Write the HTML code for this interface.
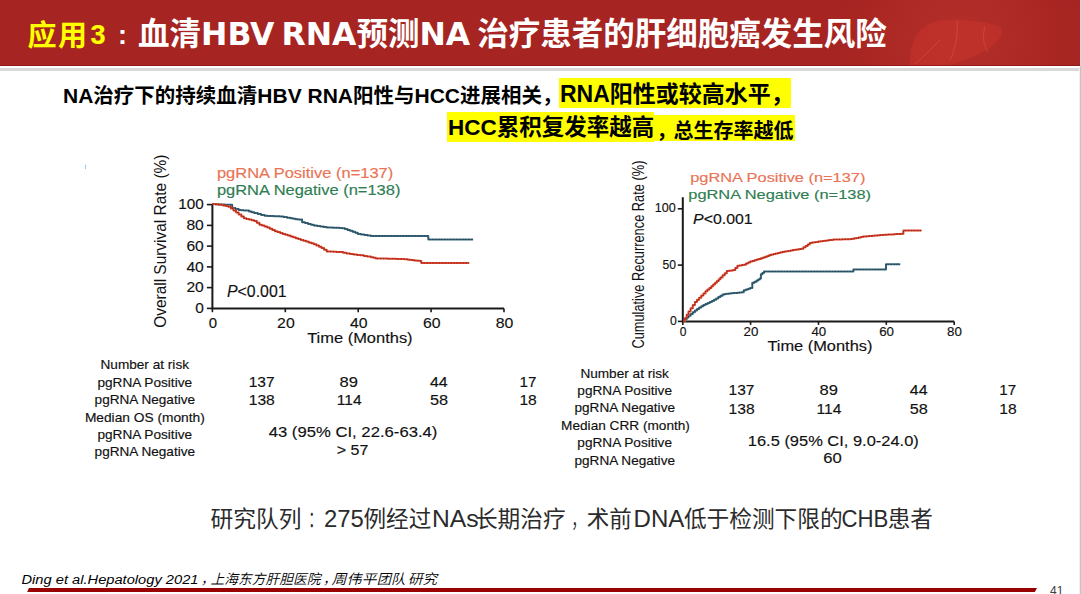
<!DOCTYPE html>
<html>
<head>
<meta charset="utf-8">
<style>
html,body{margin:0;padding:0;background:#fff;}
body{width:1081px;height:594px;position:relative;overflow:hidden;font-family:"Liberation Sans","Noto Sans CJK SC",sans-serif;}
.abs{position:absolute;white-space:nowrap;}
#hdr{position:absolute;left:0;top:0;width:1080px;height:66px;background:#a62421;overflow:hidden;}
#hdrline{position:absolute;left:0;top:68px;width:1080px;height:3px;background:#d9d9d9;}
#redge{position:absolute;left:1080px;top:0;width:1px;height:594px;background:linear-gradient(#cddbde 0,#cddbde 66px,#c4c4c4 67px);}
#redge2{position:absolute;left:1079px;top:67px;width:1px;height:527px;background:#f0f0f0;}
.title{font-family:"Liberation Sans","Noto Sans CJK SC",sans-serif;font-weight:bold;font-size:31px;color:#fff;line-height:1;}
.sub{font-family:"Liberation Sans","Noto Sans CJK SC",sans-serif;font-weight:bold;color:#000;line-height:1;}
.lt{font-family:"DejaVu Sans",sans-serif;font-size:31.5px;word-spacing:-4px;}
.l21{font-size:21px;}
.hl{background:#ffff00;}
.chart{font-family:"Liberation Sans",Arial,sans-serif;}
</style>
</head>
<body>
<div id="hdr"><svg width="1080" height="66" style="position:absolute;left:0;top:0">
<defs><radialGradient id="lg" cx="960" cy="36" r="120" gradientUnits="userSpaceOnUse"><stop offset="0" stop-color="#c23a33" stop-opacity="0.5"/><stop offset="1" stop-color="#c23a33" stop-opacity="0"/></radialGradient></defs>
<rect x="840" y="0" width="240" height="66" fill="url(#lg)"/>
<path d="M910,66 C909,46 916,30 929,24 C940,19 952,19 961,20 C974,21 992,22 1001,28 C1005,33 998,43 985,51 C974,57 960,62 946,66 Z" fill="#c8332c" fill-opacity="0.55"/>
<path d="M957,20 C958,34 956,48 950,60 M940,40 C930,50 922,58 915,64 M985,26 C982,38 984,46 988,52" stroke="#d9705a" stroke-opacity="0.35" stroke-width="1" fill="none"/>
<rect x="0" y="65" width="1080" height="1" fill="#8a1414" fill-opacity="0.6"/>
</svg></div>
<div id="hdrline"></div>
<div id="redge"></div><div id="redge2"></div>

<div class="abs title" style="left:27.5px;top:22px;font-size:29px;letter-spacing:1.4px;color:#ffff00;">应用</div>
<div class="abs title" style="left:90.5px;top:22px;font-size:27px;color:#ffff00;font-family:'Liberation Sans',sans-serif;-webkit-text-stroke:0.2px #ffff00;">3</div>
<div class="abs title" style="left:118px;top:22px;font-size:27px;font-family:'Liberation Sans',sans-serif;">:</div>
<div class="abs title" style="left:138px;top:19px;font-size:31.5px;">血清<span class="lt">HBV RNA</span>预测<span class="lt">NA </span>治疗患者的肝细胞癌发生风险</div>

<div class="abs sub" style="left:63px;top:85px;font-size:20.5px;"><span class="l21">NA</span>治疗下的持续血清<span class="l21">HBV RNA</span>阳性与<span class="l21">HCC</span>进展相关，</div>
<div class="abs hl" style="left:559px;top:78px;width:232px;height:30px;"></div>
<div class="abs sub" style="left:560px;top:83px;font-size:23px;">RNA阳性或较高水平，</div>
<div class="abs hl" style="left:447px;top:112px;width:207px;height:30px;"></div>
<div class="abs hl" style="left:654px;top:115px;width:141px;height:26px;"></div>
<div class="abs sub" style="left:448px;top:117px;font-size:22.5px;">HCC累积复发率越高</div>
<div class="abs sub" style="left:653.5px;top:120.5px;font-size:20px;"><span style="position:relative;left:3px">，</span>总生存率越低</div>

<svg class="abs chart" style="left:0;top:0" width="1081" height="594" viewBox="0 0 1081 594" font-family="Liberation Sans, Arial, sans-serif">
<!--CH-->
<g stroke="#1a1a1a" stroke-width="2" fill="none" stroke-linecap="butt">
<path d="M212.4,204.6 V308.4 H504.0"/>
<path d="M206.9,308.4 H212.4" stroke-width="1.6"/>
<path d="M206.9,287.6 H212.4" stroke-width="1.6"/>
<path d="M206.9,266.9 H212.4" stroke-width="1.6"/>
<path d="M206.9,246.1 H212.4" stroke-width="1.6"/>
<path d="M206.9,225.4 H212.4" stroke-width="1.6"/>
<path d="M206.9,204.6 H212.4" stroke-width="1.6"/>
<path d="M212.4,308.4 V312.2" stroke-width="1.6"/>
<path d="M285.3,308.4 V312.2" stroke-width="1.6"/>
<path d="M358.2,308.4 V312.2" stroke-width="1.6"/>
<path d="M431.1,308.4 V312.2" stroke-width="1.6"/>
<path d="M504.0,308.4 V312.2" stroke-width="1.6"/>
</g>
<text x="195.2" y="313.1" font-size="15" fill="#111" stroke="#111" stroke-width="0.15" textLength="8.6" lengthAdjust="spacingAndGlyphs" >0</text>
<text x="186.4" y="292.3" font-size="15" fill="#111" stroke="#111" stroke-width="0.15" textLength="17.4" lengthAdjust="spacingAndGlyphs" >20</text>
<text x="186.4" y="271.6" font-size="15" fill="#111" stroke="#111" stroke-width="0.15" textLength="17.4" lengthAdjust="spacingAndGlyphs" >40</text>
<text x="186.4" y="250.8" font-size="15" fill="#111" stroke="#111" stroke-width="0.15" textLength="17.4" lengthAdjust="spacingAndGlyphs" >60</text>
<text x="186.4" y="230.1" font-size="15" fill="#111" stroke="#111" stroke-width="0.15" textLength="17.4" lengthAdjust="spacingAndGlyphs" >80</text>
<text x="178.3" y="209.3" font-size="15" fill="#111" stroke="#111" stroke-width="0.15" textLength="25.5" lengthAdjust="spacingAndGlyphs" >100</text>
<text x="208.8" y="327.6" font-size="15" fill="#111" stroke="#111" stroke-width="0.15" textLength="8.3" lengthAdjust="spacingAndGlyphs" >0</text>
<text x="277.1" y="327.6" font-size="15" fill="#111" stroke="#111" stroke-width="0.15" textLength="17.6" lengthAdjust="spacingAndGlyphs" >20</text>
<text x="350.0" y="327.6" font-size="15" fill="#111" stroke="#111" stroke-width="0.15" textLength="17.6" lengthAdjust="spacingAndGlyphs" >40</text>
<text x="422.9" y="327.6" font-size="15" fill="#111" stroke="#111" stroke-width="0.15" textLength="17.6" lengthAdjust="spacingAndGlyphs" >60</text>
<text x="495.8" y="327.6" font-size="15" fill="#111" stroke="#111" stroke-width="0.15" textLength="17.6" lengthAdjust="spacingAndGlyphs" >80</text>
<text x="307.2" y="342.8" font-size="15" fill="#111" stroke="#111" stroke-width="0.15" textLength="105.4" lengthAdjust="spacingAndGlyphs" >Time (Months)</text>
<text transform="translate(165.6,327.8) rotate(-90)" font-size="15.6" fill="#111" textLength="173.2" lengthAdjust="spacingAndGlyphs">Overall Survival Rate (%)</text>
<text x="227.0" y="296.8" font-size="15.6" fill="#111" stroke="#111" stroke-width="0.15" textLength="59.6" lengthAdjust="spacingAndGlyphs" ><tspan font-style="italic">P</tspan>&lt;0.001</text>
<text x="216.9" y="177.8" font-size="13.8" fill="#ea7355" stroke="#ea7355" stroke-width="0.15" textLength="176.4" lengthAdjust="spacingAndGlyphs" >pgRNA Positive (n=137)</text>
<text x="216.9" y="195.0" font-size="13.8" fill="#2f7d52" stroke="#2f7d52" stroke-width="0.15" textLength="183.5" lengthAdjust="spacingAndGlyphs" >pgRNA Negative (n=138)</text>
<path d="M212.3,204.1 H215.5 V204.2 H218.7 V204.4 H221.9 V204.5 H225.1 V204.7 H228.3 V204.8 H232.2 V208.0 H235.4 V209.0 H238.7 V210.0 H241.3 V210.2 H243.9 V210.4 H246.4 V210.5 H249.0 V211.4 H251.6 V212.3 H254.2 V213.1 H257.7 V214.0 H261.1 V214.9 H264.6 V215.7 H267.7 V215.9 H270.8 V216.0 H273.9 V216.2 H277.0 V216.3 H280.1 V216.5 H283.6 V217.1 H287.0 V217.7 H290.5 V218.3 H293.1 V218.7 H295.7 V219.2 H298.2 V219.6 H302.1 V222.2 H305.0 V223.0 H308.0 V223.9 H310.9 V224.7 H313.8 V225.6 H317.0 V226.0 H320.3 V226.5 H323.5 V226.9 H326.7 V227.4 H329.8 V227.5 H332.9 V227.7 H336.1 V227.8 H339.2 V228.0 H342.3 V228.2 H344.9 V229.0 H347.5 V229.9 H350.0 V230.7 H352.6 V231.8 H355.2 V232.8 H357.8 V233.9 H361.0 V234.4 H364.3 V234.9 H367.5 V235.4 H370.8 V235.9 L427.7,235.9 H428.3 V239.5 L473.1,239.5" stroke="#3a6a7c" stroke-width="2" fill="none" stroke-linejoin="round"/><path d="M212.3,204.1 H215.5 V204.2 H218.7 V204.4 H221.9 V204.5 H225.1 V204.7 H228.3 V204.8 H232.2 V208.0 H235.4 V209.0 H238.7 V210.0 H241.3 V210.2 H243.9 V210.4 H246.4 V210.5 H249.0 V211.4 H251.6 V212.3 H254.2 V213.1 H257.7 V214.0 H261.1 V214.9 H264.6 V215.7 H267.7 V215.9 H270.8 V216.0 H273.9 V216.2 H277.0 V216.3 H280.1 V216.5 H283.6 V217.1 H287.0 V217.7 H290.5 V218.3 H293.1 V218.7 H295.7 V219.2 H298.2 V219.6 H302.1 V222.2 H305.0 V223.0 H308.0 V223.9 H310.9 V224.7 H313.8 V225.6 H317.0 V226.0 H320.3 V226.5 H323.5 V226.9 H326.7 V227.4 H329.8 V227.5 H332.9 V227.7 H336.1 V227.8 H339.2 V228.0 H342.3 V228.2 H344.9 V229.0 H347.5 V229.9 H350.0 V230.7 H352.6 V231.8 H355.2 V232.8 H357.8 V233.9 H361.0 V234.4 H364.3 V234.9 H367.5 V235.4 H370.8 V235.9 L427.7,235.9 H428.3 V239.5 L473.1,239.5" stroke="#1e2c44" stroke-width="0.9" stroke-dasharray="1.6,1.4" fill="none" stroke-opacity="0.8"/>
<path d="M212.3,204.1 H215.0 V204.3 H217.8 V204.6 H220.5 V204.8 H223.1 V205.4 H225.7 V206.1 H228.3 V206.7 H230.9 V208.6 H233.5 V210.5 H236.1 V212.5 H238.7 V214.4 H241.3 V216.4 H243.9 V218.3 H246.4 V219.0 H249.0 V219.6 H251.6 V220.3 H254.2 V220.9 H256.8 V222.8 H259.4 V224.8 H262.0 V225.6 H264.6 V226.5 H267.2 V227.4 H269.8 V228.7 H272.3 V230.0 H274.9 V231.3 H277.5 V232.1 H280.1 V233.0 H282.7 V233.9 H285.3 V234.7 H287.9 V235.6 H290.5 V236.4 H293.1 V237.3 H295.7 V238.2 H298.2 V239.0 H300.8 V239.9 H303.4 V240.8 H306.0 V241.6 H308.6 V242.5 H311.2 V243.3 H313.8 V244.2 H316.4 V245.5 H319.0 V246.8 H321.6 V248.1 H324.1 V249.8 H326.7 V251.5 H330.0 V251.6 H333.2 V251.7 H336.4 V251.9 H339.7 V252.0 H343.1 V252.7 H346.6 V253.4 H350.0 V254.1 H353.5 V254.5 H356.9 V254.9 H360.4 V255.3 H363.9 V256.0 H367.3 V256.6 H370.8 V257.2 H373.4 V257.8 H375.9 V258.5 H378.8 V258.5 H381.7 V258.6 H384.6 V258.6 H387.5 V258.7 H390.3 V258.7 H393.2 V258.8 H396.1 V258.9 H399.0 V258.9 H401.8 V259.0 H404.9 V259.3 H407.9 V259.7 H410.9 V260.0 H413.9 V260.4 H416.9 V260.7 H420.0 V261.0 H421.3 V262.9 L469.2,262.9" stroke="#e0452e" stroke-width="2" fill="none" stroke-linejoin="round"/><path d="M212.3,204.1 H215.0 V204.3 H217.8 V204.6 H220.5 V204.8 H223.1 V205.4 H225.7 V206.1 H228.3 V206.7 H230.9 V208.6 H233.5 V210.5 H236.1 V212.5 H238.7 V214.4 H241.3 V216.4 H243.9 V218.3 H246.4 V219.0 H249.0 V219.6 H251.6 V220.3 H254.2 V220.9 H256.8 V222.8 H259.4 V224.8 H262.0 V225.6 H264.6 V226.5 H267.2 V227.4 H269.8 V228.7 H272.3 V230.0 H274.9 V231.3 H277.5 V232.1 H280.1 V233.0 H282.7 V233.9 H285.3 V234.7 H287.9 V235.6 H290.5 V236.4 H293.1 V237.3 H295.7 V238.2 H298.2 V239.0 H300.8 V239.9 H303.4 V240.8 H306.0 V241.6 H308.6 V242.5 H311.2 V243.3 H313.8 V244.2 H316.4 V245.5 H319.0 V246.8 H321.6 V248.1 H324.1 V249.8 H326.7 V251.5 H330.0 V251.6 H333.2 V251.7 H336.4 V251.9 H339.7 V252.0 H343.1 V252.7 H346.6 V253.4 H350.0 V254.1 H353.5 V254.5 H356.9 V254.9 H360.4 V255.3 H363.9 V256.0 H367.3 V256.6 H370.8 V257.2 H373.4 V257.8 H375.9 V258.5 H378.8 V258.5 H381.7 V258.6 H384.6 V258.6 H387.5 V258.7 H390.3 V258.7 H393.2 V258.8 H396.1 V258.9 H399.0 V258.9 H401.8 V259.0 H404.9 V259.3 H407.9 V259.7 H410.9 V260.0 H413.9 V260.4 H416.9 V260.7 H420.0 V261.0 H421.3 V262.9 L469.2,262.9" stroke="#6a1810" stroke-width="0.9" stroke-dasharray="1.6,1.4" fill="none" stroke-opacity="0.8"/>
<g stroke="#1a1a1a" stroke-width="2" fill="none">
<path d="M682.8,197.2 V321.4 H954.2"/>
<path d="M677.8,321.4 H682.8" stroke-width="1.6"/>
<path d="M677.8,265.1 H682.8" stroke-width="1.6"/>
<path d="M677.8,208.8 H682.8" stroke-width="1.6"/>
<path d="M682.8,321.4 V324.9" stroke-width="1.6"/>
<path d="M750.6,321.4 V324.9" stroke-width="1.6"/>
<path d="M818.5,321.4 V324.9" stroke-width="1.6"/>
<path d="M886.3,321.4 V324.9" stroke-width="1.6"/>
<path d="M954.2,321.4 V324.9" stroke-width="1.6"/>
</g>
<text x="654.8" y="212.4" font-size="12.6" fill="#111" stroke="#111" stroke-width="0.15" textLength="21.0" lengthAdjust="spacingAndGlyphs" >100</text>
<text x="662.5" y="268.5" font-size="12" fill="#111" stroke="#111" stroke-width="0.15" textLength="13.5" lengthAdjust="spacingAndGlyphs" >50</text>
<text x="670.0" y="324.5" font-size="12" fill="#111" stroke="#111" stroke-width="0.15" textLength="6.8" lengthAdjust="spacingAndGlyphs" >0</text>
<text x="679.7" y="335.5" font-size="12" fill="#111" stroke="#111" stroke-width="0.15" textLength="6.7" lengthAdjust="spacingAndGlyphs" >0</text>
<text x="743.5" y="335.5" font-size="12" fill="#111" stroke="#111" stroke-width="0.15" textLength="14.8" lengthAdjust="spacingAndGlyphs" >20</text>
<text x="811.4" y="335.5" font-size="12" fill="#111" stroke="#111" stroke-width="0.15" textLength="14.8" lengthAdjust="spacingAndGlyphs" >40</text>
<text x="879.2" y="335.5" font-size="12" fill="#111" stroke="#111" stroke-width="0.15" textLength="14.8" lengthAdjust="spacingAndGlyphs" >60</text>
<text x="947.1" y="335.5" font-size="12" fill="#111" stroke="#111" stroke-width="0.15" textLength="14.8" lengthAdjust="spacingAndGlyphs" >80</text>
<text x="767.4" y="351.1" font-size="14.5" fill="#111" stroke="#111" stroke-width="0.15" textLength="105.0" lengthAdjust="spacingAndGlyphs" >Time (Months)</text>
<text transform="translate(644.2,348.6) rotate(-90)" font-size="15.6" fill="#111" textLength="188" lengthAdjust="spacingAndGlyphs">Cumulative Recurrence Rate (%)</text>
<text x="693.1" y="224.0" font-size="14" fill="#111" stroke="#111" stroke-width="0.15" textLength="59.6" lengthAdjust="spacingAndGlyphs" ><tspan font-style="italic">P</tspan>&lt;0.001</text>
<text x="690.2" y="182.0" font-size="13.2" fill="#ea7355" stroke="#ea7355" stroke-width="0.15" textLength="175.2" lengthAdjust="spacingAndGlyphs" >pgRNA Positive (n=137)</text>
<text x="688.3" y="199.2" font-size="13.2" fill="#2f7d52" stroke="#2f7d52" stroke-width="0.15" textLength="182.7" lengthAdjust="spacingAndGlyphs" >pgRNA Negative (n=138)</text>
<path d="M683.2,321.1 H685.0 V319.3 H686.7 V317.5 H688.5 V315.7 H690.6 V314.0 H692.8 V312.2 H694.9 V310.4 H697.0 V309.0 H699.1 V307.6 H701.3 V306.2 H703.4 V305.1 H705.5 V304.0 H707.7 V303.0 H709.8 V301.9 H711.9 V300.9 H714.0 V299.8 H716.2 V298.5 H718.3 V297.1 H720.4 V295.8 H722.6 V294.5 H724.7 V294.1 H726.8 V293.8 H728.9 V293.4 H731.1 V293.2 H733.2 V293.0 H735.3 V292.9 H737.4 V292.7 H739.6 V292.5 H741.7 V292.3 H743.8 V290.2 H746.0 V289.5 H748.1 V288.8 H750.2 V288.1 H752.3 V282.8 H754.5 V281.7 H756.6 V280.6 H758.2 V279.6 H759.8 V278.5 H760.9 V274.3 H762.4 V272.9 H764.0 V271.5 L852.3,271.5 H853.4 V269.4 L884.3,269.4 H886.0 V264.3 L900.2,264.3" stroke="#3a6a7c" stroke-width="2" fill="none" stroke-linejoin="round"/><path d="M683.2,321.1 H685.0 V319.3 H686.7 V317.5 H688.5 V315.7 H690.6 V314.0 H692.8 V312.2 H694.9 V310.4 H697.0 V309.0 H699.1 V307.6 H701.3 V306.2 H703.4 V305.1 H705.5 V304.0 H707.7 V303.0 H709.8 V301.9 H711.9 V300.9 H714.0 V299.8 H716.2 V298.5 H718.3 V297.1 H720.4 V295.8 H722.6 V294.5 H724.7 V294.1 H726.8 V293.8 H728.9 V293.4 H731.1 V293.2 H733.2 V293.0 H735.3 V292.9 H737.4 V292.7 H739.6 V292.5 H741.7 V292.3 H743.8 V290.2 H746.0 V289.5 H748.1 V288.8 H750.2 V288.1 H752.3 V282.8 H754.5 V281.7 H756.6 V280.6 H758.2 V279.6 H759.8 V278.5 H760.9 V274.3 H762.4 V272.9 H764.0 V271.5 L852.3,271.5 H853.4 V269.4 L884.3,269.4 H886.0 V264.3 L900.2,264.3" stroke="#1e2c44" stroke-width="0.9" stroke-dasharray="1.6,1.4" fill="none" stroke-opacity="0.8"/>
<path d="M683.2,321.1 H685.0 V317.9 H686.7 V314.7 H688.5 V311.5 H690.6 V308.3 H692.8 V305.1 H694.9 V301.9 H697.0 V299.8 H699.1 V297.7 H701.3 V295.5 H703.4 V293.4 H705.5 V291.3 H707.4 V289.6 H709.4 V287.9 H711.3 V286.2 H713.2 V284.5 H715.1 V282.8 H716.9 V281.0 H718.7 V279.2 H720.4 V277.4 H722.6 V275.3 H724.7 V273.2 H726.8 V271.1 H728.9 V270.7 H731.1 V270.4 H733.2 V270.0 H735.3 V267.9 H737.4 V265.7 H739.6 V265.4 H741.7 V265.0 H743.8 V264.7 H746.0 V263.6 H748.1 V262.6 H750.2 V261.5 H752.3 V260.9 H754.5 V260.2 H756.6 V259.6 H758.7 V258.9 H760.9 V258.3 H763.0 V257.5 H765.1 V256.7 H767.2 V255.9 H769.4 V255.1 H771.5 V254.6 H773.6 V254.0 H775.7 V253.5 H777.9 V253.0 H780.0 V252.4 H782.1 V251.9 H784.3 V251.6 H786.4 V251.2 H788.5 V250.9 H790.6 V250.5 H792.8 V250.1 H794.9 V249.8 H797.0 V249.4 H799.1 V249.1 H801.3 V248.7 H803.4 V247.3 H805.5 V245.9 H807.7 V244.4 H809.8 V243.0 H811.9 V242.6 H814.0 V242.3 H816.2 V242.0 H818.3 V241.6 H820.4 V241.3 H822.6 V241.0 H824.7 V240.7 H826.8 V240.4 H828.9 V240.1 H831.1 V239.9 H833.2 V239.6 H835.1 V239.5 H837.0 V239.5 H838.9 V239.4 H840.8 V239.4 H842.6 V239.3 H844.5 V239.3 H846.4 V239.2 H848.3 V239.2 H850.2 V239.1 H852.3 V238.7 H854.5 V238.3 H856.6 V237.9 H858.7 V237.4 H860.9 V237.0 H863.0 V236.6 H864.9 V236.4 H866.8 V236.3 H868.7 V236.1 H870.6 V235.9 H872.6 V235.7 H874.5 V235.6 H876.4 V235.4 H878.3 V235.2 H880.2 V235.1 H882.1 V234.9 H884.0 V234.8 H886.0 V234.7 H887.9 V234.6 H889.8 V234.5 H891.7 V234.4 H893.6 V234.3 H895.5 V234.1 H897.4 V234.0 H899.4 V233.9 H901.3 V233.8 H903.4 V230.6 L921.5,230.6" stroke="#e0452e" stroke-width="2" fill="none" stroke-linejoin="round"/><path d="M683.2,321.1 H685.0 V317.9 H686.7 V314.7 H688.5 V311.5 H690.6 V308.3 H692.8 V305.1 H694.9 V301.9 H697.0 V299.8 H699.1 V297.7 H701.3 V295.5 H703.4 V293.4 H705.5 V291.3 H707.4 V289.6 H709.4 V287.9 H711.3 V286.2 H713.2 V284.5 H715.1 V282.8 H716.9 V281.0 H718.7 V279.2 H720.4 V277.4 H722.6 V275.3 H724.7 V273.2 H726.8 V271.1 H728.9 V270.7 H731.1 V270.4 H733.2 V270.0 H735.3 V267.9 H737.4 V265.7 H739.6 V265.4 H741.7 V265.0 H743.8 V264.7 H746.0 V263.6 H748.1 V262.6 H750.2 V261.5 H752.3 V260.9 H754.5 V260.2 H756.6 V259.6 H758.7 V258.9 H760.9 V258.3 H763.0 V257.5 H765.1 V256.7 H767.2 V255.9 H769.4 V255.1 H771.5 V254.6 H773.6 V254.0 H775.7 V253.5 H777.9 V253.0 H780.0 V252.4 H782.1 V251.9 H784.3 V251.6 H786.4 V251.2 H788.5 V250.9 H790.6 V250.5 H792.8 V250.1 H794.9 V249.8 H797.0 V249.4 H799.1 V249.1 H801.3 V248.7 H803.4 V247.3 H805.5 V245.9 H807.7 V244.4 H809.8 V243.0 H811.9 V242.6 H814.0 V242.3 H816.2 V242.0 H818.3 V241.6 H820.4 V241.3 H822.6 V241.0 H824.7 V240.7 H826.8 V240.4 H828.9 V240.1 H831.1 V239.9 H833.2 V239.6 H835.1 V239.5 H837.0 V239.5 H838.9 V239.4 H840.8 V239.4 H842.6 V239.3 H844.5 V239.3 H846.4 V239.2 H848.3 V239.2 H850.2 V239.1 H852.3 V238.7 H854.5 V238.3 H856.6 V237.9 H858.7 V237.4 H860.9 V237.0 H863.0 V236.6 H864.9 V236.4 H866.8 V236.3 H868.7 V236.1 H870.6 V235.9 H872.6 V235.7 H874.5 V235.6 H876.4 V235.4 H878.3 V235.2 H880.2 V235.1 H882.1 V234.9 H884.0 V234.8 H886.0 V234.7 H887.9 V234.6 H889.8 V234.5 H891.7 V234.4 H893.6 V234.3 H895.5 V234.1 H897.4 V234.0 H899.4 V233.9 H901.3 V233.8 H903.4 V230.6 L921.5,230.6" stroke="#6a1810" stroke-width="0.9" stroke-dasharray="1.6,1.4" fill="none" stroke-opacity="0.8"/>
<text x="100.5" y="369.4" font-size="12.2" fill="#111" stroke="#111" stroke-width="0.15" textLength="88.5" lengthAdjust="spacingAndGlyphs" >Number at risk</text>
<text x="97.4" y="386.5" font-size="12.2" fill="#111" stroke="#111" stroke-width="0.15" textLength="94.7" lengthAdjust="spacingAndGlyphs" >pgRNA Positive</text>
<text x="94.6" y="403.7" font-size="12.2" fill="#111" stroke="#111" stroke-width="0.15" textLength="100.5" lengthAdjust="spacingAndGlyphs" >pgRNA Negative</text>
<text x="84.9" y="421.6" font-size="12.2" fill="#111" stroke="#111" stroke-width="0.15" textLength="119.9" lengthAdjust="spacingAndGlyphs" >Median OS (month)</text>
<text x="97.4" y="438.9" font-size="12.2" fill="#111" stroke="#111" stroke-width="0.15" textLength="94.7" lengthAdjust="spacingAndGlyphs" >pgRNA Positive</text>
<text x="94.6" y="456.1" font-size="12.2" fill="#111" stroke="#111" stroke-width="0.15" textLength="100.5" lengthAdjust="spacingAndGlyphs" >pgRNA Negative</text>
<text x="248.7" y="386.8" font-size="14.6" fill="#111" stroke="#111" stroke-width="0.15" textLength="25.9" lengthAdjust="spacingAndGlyphs" >137</text>
<text x="339.6" y="386.8" font-size="14.6" fill="#111" stroke="#111" stroke-width="0.15" textLength="18.4" lengthAdjust="spacingAndGlyphs" >89</text>
<text x="429.9" y="386.8" font-size="14.6" fill="#111" stroke="#111" stroke-width="0.15" textLength="17.7" lengthAdjust="spacingAndGlyphs" >44</text>
<text x="519.4" y="386.8" font-size="14.6" fill="#111" stroke="#111" stroke-width="0.15" textLength="17.0" lengthAdjust="spacingAndGlyphs" >17</text>
<text x="248.7" y="405.0" font-size="14.6" fill="#111" stroke="#111" stroke-width="0.15" textLength="26.1" lengthAdjust="spacingAndGlyphs" >138</text>
<text x="336.7" y="405.0" font-size="14.6" fill="#111" stroke="#111" stroke-width="0.15" textLength="24.9" lengthAdjust="spacingAndGlyphs" >114</text>
<text x="429.9" y="405.0" font-size="14.6" fill="#111" stroke="#111" stroke-width="0.15" textLength="18.1" lengthAdjust="spacingAndGlyphs" >58</text>
<text x="519.4" y="405.0" font-size="14.6" fill="#111" stroke="#111" stroke-width="0.15" textLength="17.4" lengthAdjust="spacingAndGlyphs" >18</text>
<text x="268.7" y="437.1" font-size="14.6" fill="#111" stroke="#111" stroke-width="0.15" textLength="168.7" lengthAdjust="spacingAndGlyphs" >43 (95% CI, 22.6-63.4)</text>
<text x="336.8" y="454.9" font-size="14.6" fill="#111" stroke="#111" stroke-width="0.15" textLength="31.6" lengthAdjust="spacingAndGlyphs" >&gt; 57</text>
<text x="580.4" y="377.9" font-size="12.2" fill="#111" stroke="#111" stroke-width="0.15" textLength="88.5" lengthAdjust="spacingAndGlyphs" >Number at risk</text>
<text x="577.3" y="395.0" font-size="12.2" fill="#111" stroke="#111" stroke-width="0.15" textLength="94.7" lengthAdjust="spacingAndGlyphs" >pgRNA Positive</text>
<text x="574.5" y="412.2" font-size="12.2" fill="#111" stroke="#111" stroke-width="0.15" textLength="100.5" lengthAdjust="spacingAndGlyphs" >pgRNA Negative</text>
<text x="561.1" y="430.1" font-size="12.2" fill="#111" stroke="#111" stroke-width="0.15" textLength="128.8" lengthAdjust="spacingAndGlyphs" >Median CRR (month)</text>
<text x="577.3" y="447.4" font-size="12.2" fill="#111" stroke="#111" stroke-width="0.15" textLength="94.7" lengthAdjust="spacingAndGlyphs" >pgRNA Positive</text>
<text x="574.5" y="464.6" font-size="12.2" fill="#111" stroke="#111" stroke-width="0.15" textLength="100.5" lengthAdjust="spacingAndGlyphs" >pgRNA Negative</text>
<text x="728.6" y="395.3" font-size="14.6" fill="#111" stroke="#111" stroke-width="0.15" textLength="25.9" lengthAdjust="spacingAndGlyphs" >137</text>
<text x="819.5" y="395.3" font-size="14.6" fill="#111" stroke="#111" stroke-width="0.15" textLength="18.4" lengthAdjust="spacingAndGlyphs" >89</text>
<text x="909.8" y="395.3" font-size="14.6" fill="#111" stroke="#111" stroke-width="0.15" textLength="17.7" lengthAdjust="spacingAndGlyphs" >44</text>
<text x="999.3" y="395.3" font-size="14.6" fill="#111" stroke="#111" stroke-width="0.15" textLength="17.0" lengthAdjust="spacingAndGlyphs" >17</text>
<text x="728.6" y="413.5" font-size="14.6" fill="#111" stroke="#111" stroke-width="0.15" textLength="26.1" lengthAdjust="spacingAndGlyphs" >138</text>
<text x="816.6" y="413.5" font-size="14.6" fill="#111" stroke="#111" stroke-width="0.15" textLength="24.9" lengthAdjust="spacingAndGlyphs" >114</text>
<text x="909.8" y="413.5" font-size="14.6" fill="#111" stroke="#111" stroke-width="0.15" textLength="18.1" lengthAdjust="spacingAndGlyphs" >58</text>
<text x="999.3" y="413.5" font-size="14.6" fill="#111" stroke="#111" stroke-width="0.15" textLength="17.4" lengthAdjust="spacingAndGlyphs" >18</text>
<text x="747.8" y="445.6" font-size="14.6" fill="#111" stroke="#111" stroke-width="0.15" textLength="171.0" lengthAdjust="spacingAndGlyphs" >16.5 (95% CI, 9.0-24.0)</text>
<text x="823.3" y="463.4" font-size="14.6" fill="#111" stroke="#111" stroke-width="0.15" textLength="18.5" lengthAdjust="spacingAndGlyphs" >60</text>
<rect x="85" y="164.8" width="1" height="4.2" fill="#8cc8f0"/>
<text x="210.5" y="527.0" font-size="22.3" fill="#2b2b2b" font-family="Liberation Sans, Noto Sans CJK SC, sans-serif" textLength="91.0" lengthAdjust="spacingAndGlyphs" >研究队列</text>
<text x="308.3" y="527.0" font-size="22.3" fill="#2b2b2b" font-family="Liberation Sans, Noto Sans CJK SC, sans-serif" textLength="14.2" lengthAdjust="spacingAndGlyphs" >：</text>
<text x="324.0" y="527.0" font-size="24" fill="#2b2b2b" font-family="Liberation Sans, sans-serif" textLength="39.8" lengthAdjust="spacingAndGlyphs" >275</text>
<text x="363.4" y="527.0" font-size="22.3" fill="#2b2b2b" font-family="Liberation Sans, Noto Sans CJK SC, sans-serif" textLength="67.9" lengthAdjust="spacingAndGlyphs" >例经过</text>
<text x="432.0" y="527.0" font-size="24" fill="#2b2b2b" font-family="Liberation Sans, sans-serif" textLength="46.6" lengthAdjust="spacingAndGlyphs" >NAs</text>
<text x="474.9" y="527.0" font-size="22.3" fill="#2b2b2b" font-family="Liberation Sans, Noto Sans CJK SC, sans-serif" textLength="90.8" lengthAdjust="spacingAndGlyphs" >长期治疗</text>
<text x="571.5" y="527.0" font-size="22.3" fill="#2b2b2b" font-family="Liberation Sans, Noto Sans CJK SC, sans-serif" textLength="13.5" lengthAdjust="spacingAndGlyphs" >，</text>
<text x="586.7" y="527.0" font-size="22.3" fill="#2b2b2b" font-family="Liberation Sans, Noto Sans CJK SC, sans-serif" textLength="45.1" lengthAdjust="spacingAndGlyphs" >术前</text>
<text x="633.5" y="527.0" font-size="24" fill="#2b2b2b" font-family="Liberation Sans, sans-serif" textLength="50.8" lengthAdjust="spacingAndGlyphs" >DNA</text>
<text x="683.9" y="527.0" font-size="22.3" fill="#2b2b2b" font-family="Liberation Sans, Noto Sans CJK SC, sans-serif" textLength="158.7" lengthAdjust="spacingAndGlyphs" >低于检测下限的</text>
<text x="841.6" y="527.0" font-size="24" fill="#2b2b2b" font-family="Liberation Sans, sans-serif" textLength="46.8" lengthAdjust="spacingAndGlyphs" >CHB</text>
<text x="887.7" y="527.0" font-size="22.3" fill="#2b2b2b" font-family="Liberation Sans, Noto Sans CJK SC, sans-serif" textLength="45.3" lengthAdjust="spacingAndGlyphs" >患者</text>
<text x="21.5" y="583.7" font-size="13.7" fill="#000" font-family="Liberation Sans, sans-serif" textLength="177.0" lengthAdjust="spacingAndGlyphs" font-style="italic">Ding et al.Hepatology 2021</text>
<text x="201.0" y="583.7" font-size="13.8" fill="#000" font-family="Liberation Sans, Noto Sans CJK SC, sans-serif" textLength="13.0" lengthAdjust="spacingAndGlyphs" font-style="italic" font-weight="350">，</text>
<text x="210.6" y="583.7" font-size="13.8" fill="#000" font-family="Liberation Sans, Noto Sans CJK SC, sans-serif" textLength="109.8" lengthAdjust="spacingAndGlyphs" font-style="italic" font-weight="350">上海东方肝胆医院</text>
<text x="323.0" y="583.7" font-size="13.8" fill="#000" font-family="Liberation Sans, Noto Sans CJK SC, sans-serif" textLength="13.0" lengthAdjust="spacingAndGlyphs" font-style="italic" font-weight="350">，</text>
<text x="331.6" y="583.7" font-size="13.8" fill="#000" font-family="Liberation Sans, Noto Sans CJK SC, sans-serif" textLength="45.0" lengthAdjust="spacingAndGlyphs" font-style="italic" font-weight="350">周伟平</text>
<text x="376.7" y="583.7" font-size="13.8" fill="#000" font-family="Liberation Sans, Noto Sans CJK SC, sans-serif" textLength="28.4" lengthAdjust="spacingAndGlyphs" font-style="italic" font-weight="350">团队</text>
<text x="407.9" y="583.7" font-size="13.8" fill="#000" font-family="Liberation Sans, Noto Sans CJK SC, sans-serif" textLength="29.1" lengthAdjust="spacingAndGlyphs" font-style="italic" font-weight="350">研究</text>
<text x="1050.0" y="595.2" font-size="12.6" fill="#404040" font-family="Liberation Sans, sans-serif" textLength="13.4" lengthAdjust="spacingAndGlyphs" >41</text>
<!--/CH-->
</svg>


<svg class="abs" style="left:0;top:585px" width="1081" height="9">
<polygon points="28.9,3 1037,3 1034.8,7 27.2,7" fill="#990000"/>
</svg>
</body>
</html>
